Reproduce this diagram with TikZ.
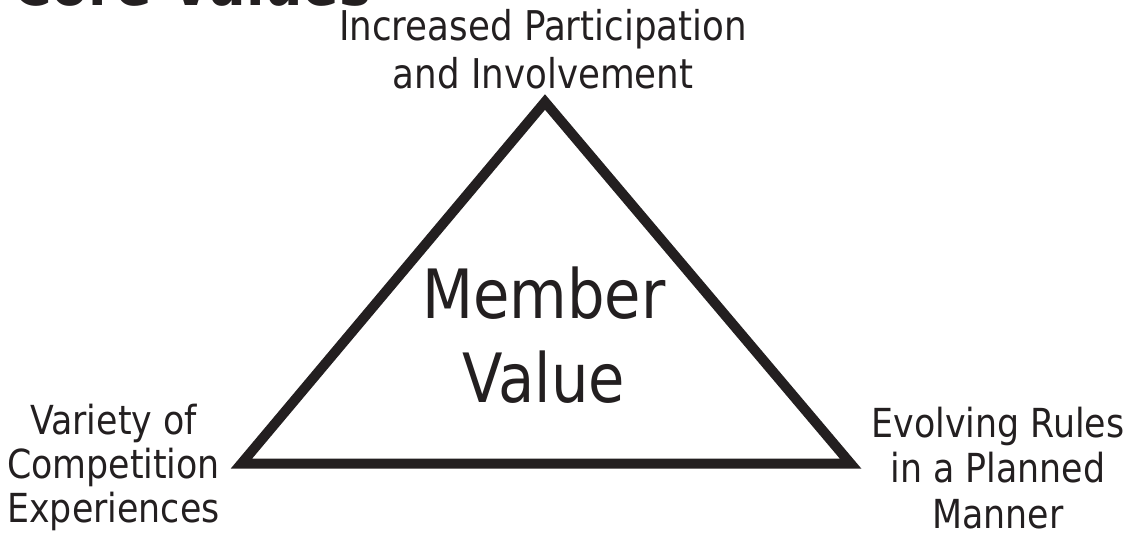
\documentclass[tikz,border=0pt]{standalone}
\usepackage{fontspec}
\setmainfont[FakeStretch=0.87]{DejaVu Sans}
\usepackage{tikz}
\usetikzlibrary{positioning}
\definecolor{ink}{RGB}{35,31,32}
\tikzset{x=1pt, y=-1pt,
corner/.style={ % Text at the three corners
font=\fontsize{40}{44}\selectfont,
align=center,
inner sep=0pt,
text=ink},
centre/.style={ % Big text inside
font=\fontsize{68}{84}\selectfont,
align=center,
inner sep=0pt,
text=ink},
heading/.style={ % Title, cut off at the top
font=\fontsize{62}{70}\selectfont\bfseries,
inner sep=0pt,
text=ink},
side/.style={ % Sides of the triangle
draw=ink,
line width=10pt,
line join=miter}}

\begin{document}
\begin{tikzpicture}
\useasboundingbox (0,0) rectangle (1133,542);
\node[heading, anchor=base west] (title) at (12,5) {Core Values};
\coordinate (apex) at (545,102);
\coordinate (left) at (241.5,463.5);
\coordinate (right) at (850.5,463.5);
\draw[side] (apex) -- (left) -- (right) -- cycle;
\node[centre, anchor=base] (member) at (544,402) {Member\\Value};
\node[corner, anchor=base, font=\fontsize{41}{48}\selectfont] (participation) at (543,88) {Increased Participation\\and Involvement};
\node[corner, anchor=base] (variety) at (113.5,522) {Variety of\\Competition\\Experiences};
\node[corner, anchor=base, font=\fontsize{40}{45.5}\selectfont] (rules) at (998,528) {Evolving Rules\\in a Planned\\Manner};
\end{tikzpicture}
\end{document}
